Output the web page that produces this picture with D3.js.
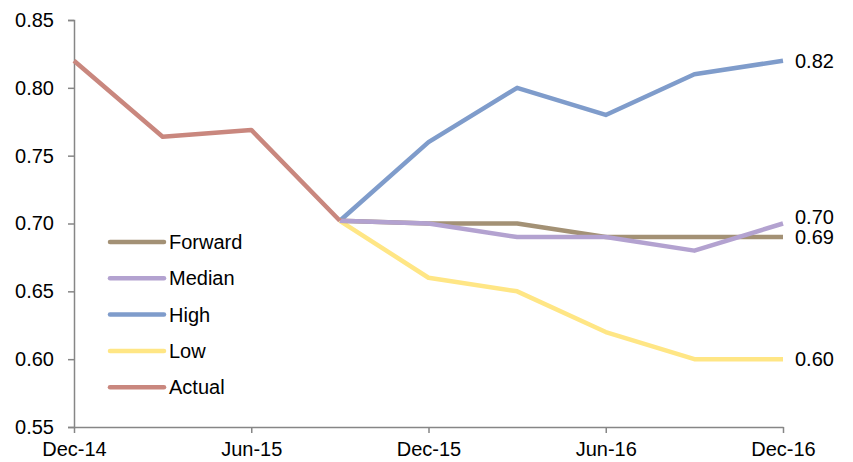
<!DOCTYPE html>
<html>
<head>
<meta charset="utf-8">
<script src="https://cdn.jsdelivr.net/npm/d3@7"></script>
<style>
  body { margin: 0; background: #fff; }
  svg text { font-family: "Liberation Sans", Arial, sans-serif; fill: #000; }
</style>
</head>
<body>
<svg id="chart" width="853" height="462"></svg>
<script>
// Quarterly periods on the x axis
const periods = ["Dec-14", "Mar-15", "Jun-15", "Sep-15", "Dec-15", "Mar-16", "Jun-16", "Sep-16", "Dec-16"];
const tickLabels = ["Dec-14", "Jun-15", "Dec-15", "Jun-16", "Dec-16"];
const yTicks = [0.55, 0.60, 0.65, 0.70, 0.75, 0.80, 0.85];

// Series values (null = no value for that period)
const actual  = [0.82, 0.764, 0.769, 0.702, null, null, null, null, null];
const forward = [null, null, null, 0.702, 0.70, 0.70, 0.69, 0.69, 0.69];
const median  = [null, null, null, 0.702, 0.70, 0.69, 0.69, 0.68, 0.70];
const high    = [null, null, null, 0.702, 0.76, 0.80, 0.78, 0.81, 0.82];
const low     = [null, null, null, 0.702, 0.66, 0.65, 0.62, 0.60, 0.60];

const seriesNames  = ["Forward", "Median", "High", "Low", "Actual"];
const seriesColors = ["#A39175", "#B3A2D0", "#7F9CCB", "#FFE685", "#C9877E"];
const seriesValues = [forward, median, high, low, actual];
// End labels shown for these series
const endLabelSeries = ["High", "Median", "Forward", "Low"];

const svg = d3.select("#chart");
const margin = { left: 74, right: 70, top: 20, bottom: 35 };
const width = 853, height = 462;
const fontSize = "20px";

const x = d3.scalePoint().domain(periods).range([margin.left, width - margin.right]);
const y = d3.scaleLinear().domain([0.55, 0.85]).range([height - margin.bottom, margin.top]);

const axisColor = "#868686";

// Y axis
const yAxis = svg.append("g")
  .attr("transform", `translate(${margin.left},0)`)
  .call(d3.axisLeft(y).tickValues(yTicks).tickFormat(d3.format(".2f")).tickSize(6).tickPadding(14));
yAxis.select(".domain").attr("stroke", axisColor).attr("stroke-width", 1.5);
yAxis.selectAll(".tick line").attr("stroke", axisColor).attr("stroke-width", 1.5);
yAxis.selectAll(".tick text").style("font-size", fontSize).attr("font-family", null);

// X axis
const xAxis = svg.append("g")
  .attr("transform", `translate(0,${height - margin.bottom})`)
  .call(d3.axisBottom(x).tickValues(tickLabels).tickSize(6).tickPadding(9).tickSizeOuter(0));
xAxis.select(".domain").attr("stroke", axisColor).attr("stroke-width", 1.5);
xAxis.selectAll(".tick line").attr("stroke", axisColor).attr("stroke-width", 1.5);
xAxis.selectAll(".tick text").style("font-size", fontSize).attr("font-family", null);

const line = d3.line()
  .defined(d => d.v !== null)
  .x(d => x(d.p))
  .y(d => y(d.v));

// Draw order: lowest first, actual on top
const drawOrder = ["Low", "High", "Forward", "Median", "Actual"];
drawOrder.forEach(name => {
  const i = seriesNames.indexOf(name);
  const data = periods.map((p, k) => ({ p, v: seriesValues[i][k] }));
  svg.append("path")
    .datum(data)
    .attr("fill", "none")
    .attr("stroke", seriesColors[i])
    .attr("stroke-width", 4.5)
    .attr("stroke-linejoin", "round")
    .attr("stroke-linecap", "butt")
    .attr("d", line);
});

// End value labels; a label that would overlap the one below is lifted
const last = periods[periods.length - 1];
const labels = endLabelSeries.map(name => {
  const i = seriesNames.indexOf(name);
  const v = seriesValues[i][periods.length - 1];
  return { v, yPos: y(v) };
}).sort((a, b) => b.yPos - a.yPos);
for (let k = 1; k < labels.length; k++) {
  const gap = labels[k - 1].yPos - labels[k].yPos;
  if (gap < 20) labels[k].yPos = labels[k - 1].yPos - 20;
}
svg.append("g").selectAll("text")
  .data(labels)
  .join("text")
  .attr("x", x(last) + 12)
  .attr("y", d => d.yPos)
  .attr("dy", "0.35em")
  .style("font-size", fontSize)
  .text(d => d3.format(".2f")(d.v));

// Legend
const legend = svg.append("g").attr("transform", "translate(110,242)");
seriesNames.forEach((name, i) => {
  const g = legend.append("g").attr("transform", `translate(0,${i * 36.3})`);
  g.append("line")
    .attr("x1", 0).attr("x2", 54).attr("y1", 0).attr("y2", 0)
    .attr("stroke", seriesColors[i]).attr("stroke-width", 4.5)
    .attr("stroke-linecap", "round");
  g.append("text")
    .attr("x", 59).attr("y", 0).attr("dy", "0.35em")
    .style("font-size", fontSize)
    .text(name);
});
</script>
</body>
</html>
